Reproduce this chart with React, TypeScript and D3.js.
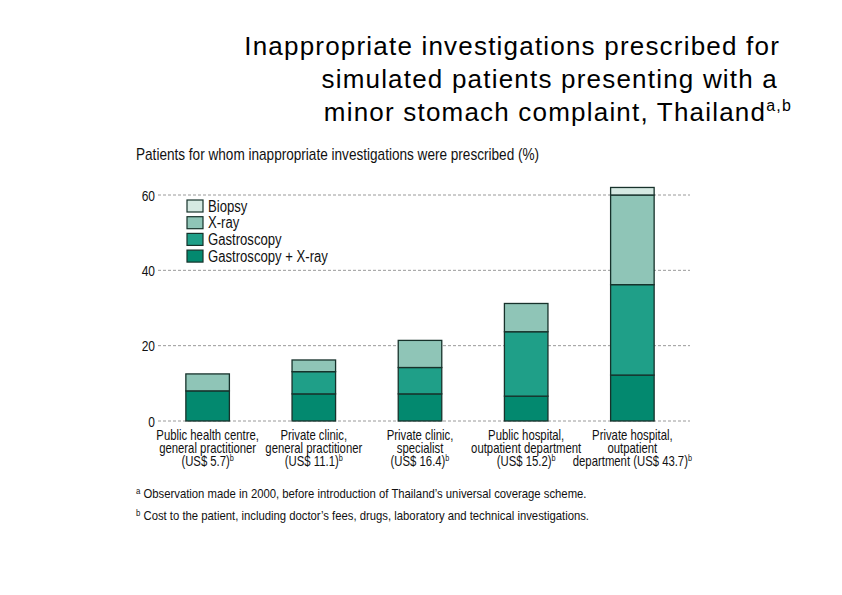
import React from 'react';
import * as d3 from 'd3';

// values (percent of patients)
const categories = ['phc', 'pcgp', 'pcsp', 'phop', 'prop'];
const categoryLabels = [
  ['Public health centre,', 'general practitioner', '(US$ 5.7)'],
  ['Private clinic,', 'general practitioner', '(US$ 11.1)'],
  ['Private clinic,', 'specialist', '(US$ 16.4)'],
  ['Public hospital,', 'outpatient department', '(US$ 15.2)'],
  ['Private hospital,', 'outpatient', 'department (US$ 43.7)'],
];
const gastroXray = [8.0, 7.2, 7.2, 6.6, 12.2];
const gastroscopy = [0, 5.9, 7.0, 17.1, 24.0];
const xray = [4.5, 3.1, 7.2, 7.5, 23.8];
const biopsy = [0, 0, 0, 0, 2.0];
const seriesKeys = ['gastroXray', 'gastroscopy', 'xray', 'biopsy'];
const legendLabels = ['Biopsy', 'X-ray', 'Gastroscopy', 'Gastroscopy + X-ray'];
const yTicks = [0, 20, 40, 60];

const colors: Record<string, string> = {
  biopsy: '#d5e9e2',
  xray: '#8fc5b7',
  gastroscopy: '#1f9f88',
  gastroXray: '#03896f',
};
const legendKeys = ['biopsy', 'xray', 'gastroscopy', 'gastroXray'];

const sans = '"Liberation Sans", Arial, sans-serif';

// the original uses a condensed face; squeeze a regular one horizontally
const Cond = ({ x, y, sx = 0.84, anchor = 'start', size = 14, children }: any) => (
  <g transform={`translate(${x},${y}) scale(${sx},1)`}>
    <text x={0} y={0} textAnchor={anchor} fontFamily={sans} fontSize={size} fill="#111">{children}</text>
  </g>
);

const App = () => {
  const width = 842, height = 595;

  const rows = categories.map((c, i) => ({
    cat: c,
    gastroXray: gastroXray[i],
    gastroscopy: gastroscopy[i],
    xray: xray[i],
    biopsy: biopsy[i],
  }));
  const stacked = d3.stack<any>().keys(seriesKeys)(rows);

  const x = d3.scaleBand().domain(categories).range([154, 686]).paddingInner(0.59).paddingOuter(0.3);
  const y = d3.scaleLinear().domain([0, 60]).range([421, 195]);

  return (
    <svg width={width} height={height} style={{ position: 'absolute', left: 0, top: 0, background: '#fff' }}>
      {/* title */}
      <g fontFamily={sans} fontSize={26} fill="#000" textAnchor="end" letterSpacing={1.2}>
        <text x={780} y={55}>Inappropriate investigations prescribed for</text>
        <text x={778} y={88}>simulated patients presenting with a</text>
        <text x={792} y={121}>
          minor stomach complaint, Thailand<tspan fontSize={16} dy={-10}>a,b</tspan>
        </text>
      </g>

      <Cond x={136} y={160} size={16} sx={0.85}>
        Patients for whom inappropriate investigations were prescribed (%)
      </Cond>

      {/* grid + y ticks */}
      {yTicks.map(t => (
        <g key={t}>
          <line x1={158} x2={690} y1={y(t)} y2={y(t)} stroke="#9a9a9a" strokeWidth={1} strokeDasharray="3,2" />
          <Cond x={155} y={y(t) + 5.5} size={15} sx={0.8} anchor="end">{t}</Cond>
        </g>
      ))}

      {/* bars */}
      {stacked.map(layer => (
        <g key={layer.key} fill={colors[layer.key]}>
          {layer.map((d, i) => d[1] - d[0] > 0 ? (
            <rect key={i} x={x(categories[i])} width={x.bandwidth()}
              y={y(d[1])} height={y(d[0]) - y(d[1])}
              stroke="#17322b" strokeWidth={1.3} />
          ) : null)}
        </g>
      ))}

      {/* legend */}
      {legendKeys.map((k, i) => (
        <g key={k}>
          <rect x={187} y={200 + i * 16.7} width={16} height={12} fill={colors[k]} stroke="#17322b" strokeWidth={1.2} />
          <Cond x={208} y={211.5 + i * 16.7} size={16} sx={0.82}>{legendLabels[i]}</Cond>
        </g>
      ))}

      {/* category labels */}
      {categories.map((c, i) => {
        const cx = x(c)! + x.bandwidth() / 2;
        return (
          <g key={c} transform={`translate(${cx},0) scale(0.81,1)`}>
            <text textAnchor="middle" fontFamily={sans} fontSize={14} fill="#111">
              <tspan x={0} y={440}>{categoryLabels[i][0]}</tspan>
              <tspan x={0} y={453}>{categoryLabels[i][1]}</tspan>
              <tspan x={0} y={466.5}>{categoryLabels[i][2]}<tspan fontSize={9} dy={-5}>b</tspan></tspan>
            </text>
          </g>
        );
      })}

      {/* footnotes */}
      <Cond x={136} y={498} size={13} sx={0.87}>
        <tspan fontSize={9} dy={-4}>a</tspan><tspan dy={4}> Observation made in 2000, before introduction of Thailand’s universal coverage scheme.</tspan>
      </Cond>
      <Cond x={136} y={520} size={13} sx={0.87}>
        <tspan fontSize={9} dy={-4}>b</tspan><tspan dy={4}> Cost to the patient, including doctor’s fees, drugs, laboratory and technical investigations.</tspan>
      </Cond>
    </svg>
  );
};

export default App;
